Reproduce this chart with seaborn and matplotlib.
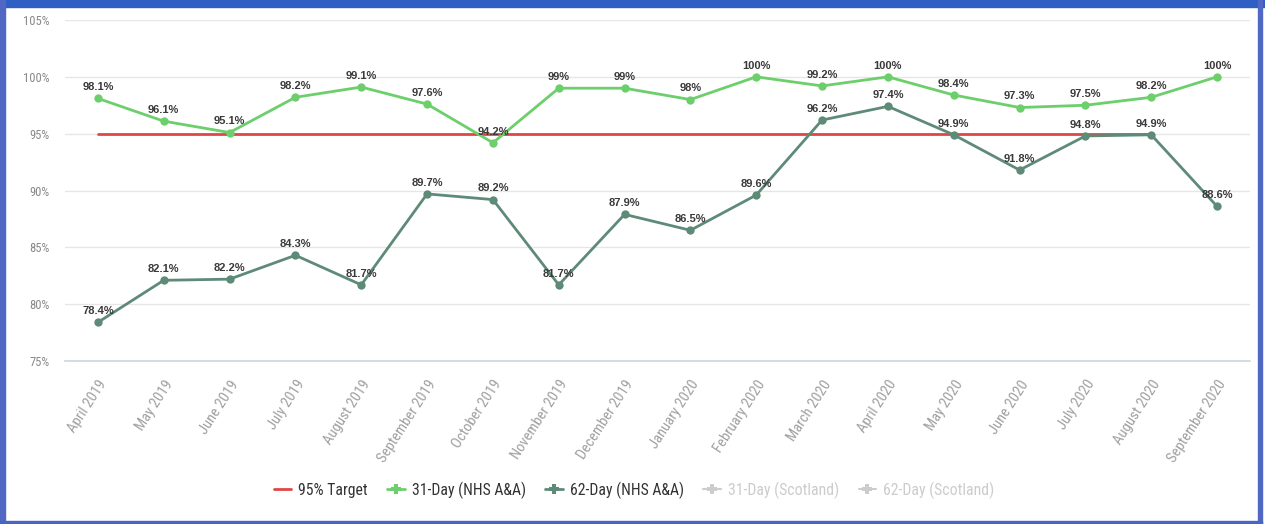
import matplotlib
matplotlib.use("Agg")
import matplotlib.pyplot as plt
from matplotlib import font_manager
from matplotlib.lines import Line2D
from matplotlib.patches import Rectangle
import seaborn as sns
import pandas as pd
import numpy as np

months = ["April 2019", "May 2019", "June 2019", "July 2019", "August 2019",
          "September 2019", "October 2019", "November 2019", "December 2019",
          "January 2020", "February 2020", "March 2020", "April 2020", "May 2020",
          "June 2020", "July 2020", "August 2020", "September 2020"]
day31_nhs = [98.1, 96.1, 95.1, 98.2, 99.1, 97.6, 94.2, 99, 99, 98, 100, 99.2,
             100, 98.4, 97.3, 97.5, 98.2, 100]
day62_nhs = [78.4, 82.1, 82.2, 84.3, 81.7, 89.7, 89.2, 81.7, 87.9, 86.5, 89.6,
             96.2, 97.4, 94.9, 91.8, 94.8, 94.9, 88.6]
target = [95] * 17
y_ticks = [75, 80, 85, 90, 95, 100, 105]

C_TARGET = "#e04646"
C_31 = "#6ccf6c"
C_62 = "#5e8a78"
C_HIDDEN = "#cccccc"

sns.set_theme(style="white")
plt.rcParams["font.family"] = ["Liberation Sans", "DejaVu Sans"]

# pick a condensed face for axis and legend text
available = {f.name for f in font_manager.fontManager.ttflist}
narrow = None
for cand in ["Liberation Sans Narrow", "Roboto Condensed", "Open Sans Condensed"]:
    if cand in available:
        narrow = dict(family=cand)
        break
if narrow is None:
    narrow = dict(family="DejaVu Sans", stretch="condensed")

fig = plt.figure(figsize=(12.65, 5.24), dpi=100)
ax = fig.add_axes([65 / 1265, 1 - 361 / 524, (1250 - 65) / 1265, (361 - 20) / 524])

df31 = pd.DataFrame({"x": np.arange(len(months)), "y": day31_nhs})
df62 = pd.DataFrame({"x": np.arange(len(months)), "y": day62_nhs})
dft = pd.DataFrame({"x": np.arange(len(target)), "y": target})

sns.lineplot(data=dft, x="x", y="y", ax=ax, color=C_TARGET, linewidth=2, zorder=2)
sns.lineplot(data=df31, x="x", y="y", ax=ax, color=C_31, linewidth=2,
             marker="o", markersize=6, markeredgewidth=0, zorder=3)
sns.lineplot(data=df62, x="x", y="y", ax=ax, color=C_62, linewidth=2,
             marker="o", markersize=6, markeredgewidth=0, zorder=3)

def fmt(v):
    return f"{v:g}%"

for series in (day31_nhs, day62_nhs):
    for i, v in enumerate(series):
        ax.annotate(fmt(v), (i, v), xytext=(0, 4.5), textcoords="offset points",
                    ha="center", va="bottom", fontsize=8, fontweight="bold",
                    color="#3a3a3a", zorder=5)

ax.set_xlim(-0.5, len(months) - 0.5)
ax.set_ylim(75, 105)
ax.set_yticks(y_ticks)
ax.set_yticklabels([f"{t}%" for t in y_ticks], fontsize=9, color="#888888", **narrow)
ax.set_xticks(np.arange(len(months)))
ax.set_xticklabels(months, rotation=57, ha="right", rotation_mode="anchor",
                   fontsize=10.5, color="#a0a0a0", **narrow)
ax.tick_params(axis="y", length=0, pad=11)
ax.tick_params(axis="x", length=0, pad=12)
ax.set_xlabel("")
ax.set_ylabel("")
ax.grid(axis="y", color="#e6e6e6", linewidth=1)
for s in ("top", "right", "left"):
    ax.spines[s].set_visible(False)
ax.spines["bottom"].set_color("#cfd8e0")

handles = [
    Line2D([], [], color=C_TARGET, linewidth=2),
    Line2D([], [], color=C_31, linewidth=2, marker="P", markersize=7, markeredgewidth=0),
    Line2D([], [], color=C_62, linewidth=2, marker="P", markersize=7, markeredgewidth=0),
    Line2D([], [], color=C_HIDDEN, linewidth=1.5, marker="P", markersize=7, markeredgewidth=0),
    Line2D([], [], color=C_HIDDEN, linewidth=1.5, marker="P", markersize=7, markeredgewidth=0),
]
labels = ["95% Target", "31-Day (NHS A&A)", "62-Day (NHS A&A)",
          "31-Day (Scotland)", "62-Day (Scotland)"]
leg = fig.legend(handles, labels, loc="center", bbox_to_anchor=(634 / 1265, 1 - 490 / 524),
                 ncol=5, frameon=False, handlelength=1.1,
                 handletextpad=0.45, columnspacing=1.25,
                 prop=font_manager.FontProperties(size=11.3, **narrow))
for t, c in zip(leg.get_texts(), ["#333333", "#333333", "#333333", "#cccccc", "#cccccc"]):
    t.set_color(c)

# blue frame around the panel
fig.patches.append(Rectangle((0, 1 - 7 / 524), 1, 7 / 524, transform=fig.transFigure,
                             color="#2f5fc4", zorder=10))
fig.patches.append(Rectangle((0, 0), 5 / 1265, 1, transform=fig.transFigure,
                             color="#5068c4", zorder=10))
fig.patches.append(Rectangle((1258 / 1265, 0), 4 / 1265, 1, transform=fig.transFigure,
                             color="#5068c4", zorder=10))
fig.patches.append(Rectangle((0, 0), 1262 / 1265, 3 / 524, transform=fig.transFigure,
                             color="#4a64c4", zorder=10))

fig.savefig("out.png", dpi=100)
